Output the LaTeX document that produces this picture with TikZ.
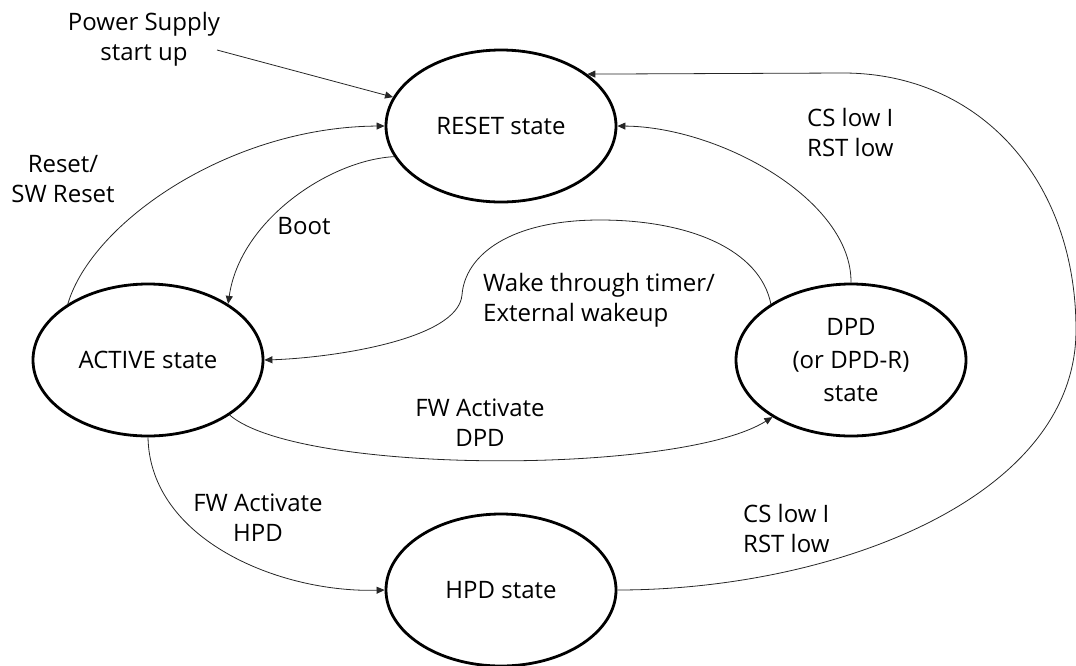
\documentclass[tikz,border=0pt]{standalone}
\usepackage{fontspec}
\setmainfont{Open Sans}
\usetikzlibrary{shapes.geometric,arrows.meta}

\begin{document}
\begin{tikzpicture}[x=1pt,y=-1pt,
    font=\fontsize{24}{30}\selectfont,
    state/.style={draw,ellipse,line width=2.8pt,minimum width=230pt,minimum height=152pt,inner sep=0pt,align=center},
    lbl/.style={align=center,inner sep=0pt},
    conn/.style={-{Triangle[length=8pt,width=7pt]},line width=0.8pt,black!85}]

        \useasboundingbox (0,0) rectangle (1076,665);

        % states
        \node[state] (reset) at (501,126) {RESET state};
        \node[state] (active) at (148,360) {ACTIVE state};
        \node[state,font=\fontsize{24}{33}\selectfont] (dpd) at (851,360) {DPD\\(or DPD-R)\\state};
        \node[state] (hpd) at (501,590) {HPD state};

        % labels
        \node[lbl] (power) at (144,39) {Power Supply\\start up};
        \node[lbl] (swreset) at (63,179) {Reset/\\SW Reset};
        \node[lbl] (boot) at (304,226) {Boot};
        \node[lbl,align=left,anchor=west] (wake) at (483,300) {Wake through timer/\\External wakeup};
        \node[lbl] (fwdpd) at (480,423) {FW Activate\\DPD};
        \node[lbl] (fwhpd) at (258,518) {FW Activate\\HPD};
        \node[lbl,align=left,anchor=west] (csup) at (807,132) {CS low I\\RST low};
        \node[lbl,align=left,anchor=west] (cslow) at (743,528) {CS low I\\RST low};

        \coordinate (pstart) at (217,50);

        % transitions
        \draw[conn] (pstart) -- (reset);
        \draw[conn] (active.145) .. controls (92,222) and (230,127) .. (reset.west);
        \draw[conn] (reset.196) .. controls (330,160) and (240,220) .. (active.35);
        \draw[conn] (dpd.north) .. controls (852,200) and (720,127) .. (reset.east);
        \draw[conn] (dpd.145) .. controls (760,250) and (690,220) .. (600,220)
            .. controls (510,220) and (465,255) .. (462,295)
            .. controls (458,340) and (330,358) .. (active.east);
        \draw[conn] (active.-34) .. controls (300,475) and (680,475) .. (dpd.216);
        \draw[conn] (active.south) .. controls (150,540) and (280,593) .. (hpd.west);
        \draw[conn] (hpd.east) .. controls (830,590) and (1076,500) .. (1076,330)
            .. controls (1076,180) and (980,73) .. (843,73) -- (reset.31);

\end{tikzpicture}
\end{document}
